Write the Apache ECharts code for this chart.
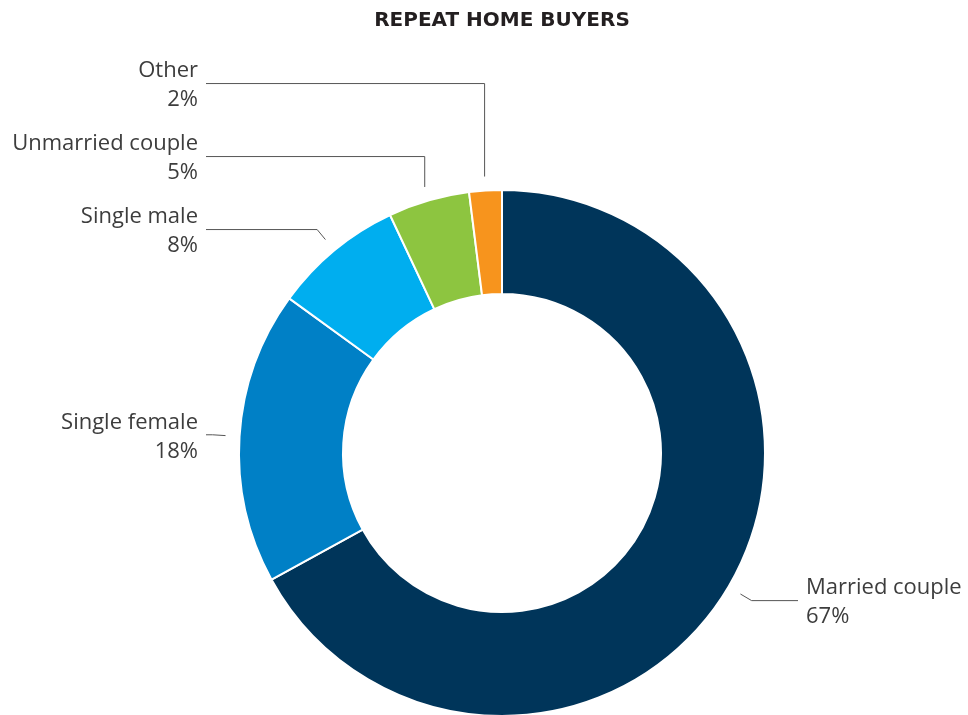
<!DOCTYPE html>
<html>
<head>
<meta charset="utf-8">
<title>Repeat Home Buyers</title>
<script src="https://cdn.jsdelivr.net/npm/echarts@6/dist/echarts.min.js"></script>
<style>
  html, body { margin: 0; padding: 0; background: #fff; }
  #chart { width: 968px; height: 715px; }
</style>
</head>
<body>
<div id="chart"></div>
<script>
// data
var categories = ['Married couple', 'Single female', 'Single male', 'Unmarried couple', 'Other'];
var shares = [67, 18, 8, 5, 2];
var colors = ['#00355a', '#0080c6', '#00aeef', '#8dc540', '#f7941d'];

// donut geometry
var cx = 502, cy = 453, rInner = 159, rOuter = 263;
var lineStart = rOuter + 14, elbowLen = 13, lineReach = rOuter + 33, textGap = 8, minGap = 73;

// work out label spots and leader lines from the slice angles
function buildLabels() {
    var total = shares.reduce(function (a, b) { return a + b; }, 0);
    var acc = 0, list = [];
    shares.forEach(function (v, i) {
        var mid = (acc + v / 2) / total * Math.PI * 2;
        acc += v;
        var ux = Math.sin(mid), uy = -Math.cos(mid);
        var sx = cx + ux * lineStart, sy = cy + uy * lineStart;
        list.push({
            i: i, left: ux < 0,
            sx: sx, sy: sy,
            ex: sx + ux * elbowLen, ey: sy + uy * elbowLen,
            moved: false
        });
    });
    // left side: push labels upward so they don't collide
    var left = list.filter(function (d) { return d.left; }).sort(function (a, b) { return b.ey - a.ey; });
    var prev = Infinity;
    left.forEach(function (d) {
        if (d.ey > prev - minGap) { d.ey = prev - minGap; d.moved = true; }
        prev = d.ey;
    });
    // right side: push downward
    var right = list.filter(function (d) { return !d.left; }).sort(function (a, b) { return a.ey - b.ey; });
    prev = -Infinity;
    right.forEach(function (d) {
        if (d.ey < prev + minGap) { d.ey = prev + minGap; d.moved = true; }
        prev = d.ey;
    });
    var out = [];
    list.forEach(function (d) {
        var endX = d.left ? cx - lineReach : cx + lineReach;
        var pts = d.moved
            ? [[d.sx, d.sy], [d.sx, d.ey], [endX, d.ey]]
            : [[d.sx, d.sy], [d.ex, d.ey], [endX, d.ey]];
        out[d.i] = {
            x: d.left ? endX - textGap : endX + textGap,
            y: d.ey + 2,
            align: d.left ? 'right' : 'left',
            verticalAlign: 'middle',
            labelLinePoints: pts
        };
    });
    return out;
}

var labelSpots = buildLabels();

var myChart = echarts.init(document.getElementById('chart'));
var option = {
    animation: false,
    title: {
        text: 'REPEAT HOME BUYERS',
        left: cx - 5,  // title padding pushes it 5px right
        textAlign: 'center',
        top: 6,
        textStyle: {
            fontFamily: 'DejaVu Sans',
            fontSize: 20,
            fontWeight: 'bold',
            color: '#231f20'
        }
    },
    series: [
        {
            name: 'Repeat home buyers',
            type: 'pie',
            center: [cx, cy],
            radius: [rInner, rOuter],
            startAngle: 90,
            clockwise: true,
            avoidLabelOverlap: false,
            itemStyle: {
                borderColor: '#ffffff',
                borderWidth: 2
            },
            label: {
                show: true,
                position: 'outside',
                formatter: '{b}\n{c}%',
                fontFamily: 'Open Sans',
                fontSize: 22,
                lineHeight: 29,
                color: '#3d3d3d'
            },
            labelLine: {
                show: true,
                smooth: false,
                lineStyle: { color: '#555555', width: 1 }
            },
            labelLayout: function (params) {
                return labelSpots[params.dataIndex];
            },
            emphasis: { disabled: true },
            data: categories.map(function (name, i) {
                return { name: name, value: shares[i], itemStyle: { color: colors[i] } };
            })
        }
    ]
};
myChart.setOption(option);
</script>
</body>
</html>
